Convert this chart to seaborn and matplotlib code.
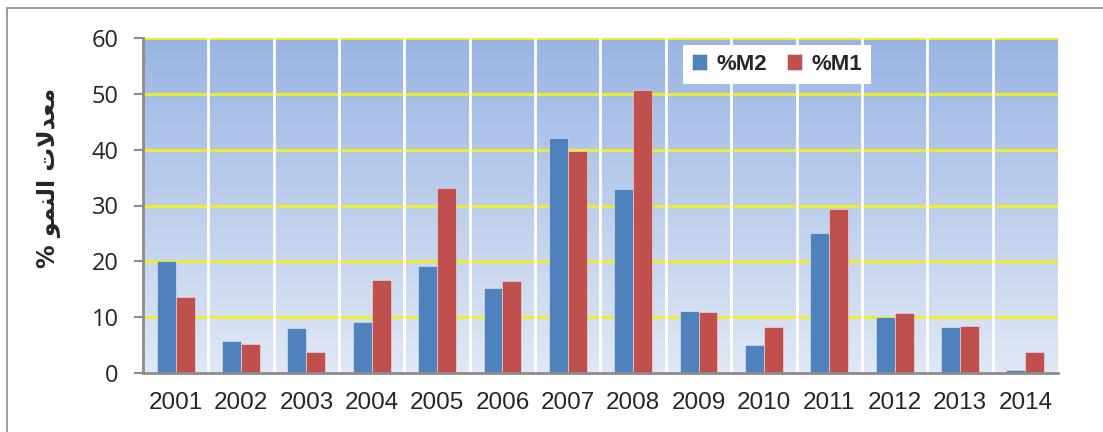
import numpy as np
import pandas as pd
import matplotlib
matplotlib.use("Agg")
import matplotlib.pyplot as plt
import seaborn as sns
from matplotlib.patches import Rectangle

years = ["2001", "2002", "2003", "2004", "2005", "2006", "2007",
         "2008", "2009", "2010", "2011", "2012", "2013", "2014"]
m2 = [20.1, 5.8, 8.0, 9.2, 19.1, 15.2, 42.1, 32.9, 11.1, 5.0, 25.0, 10.0, 8.2, 0.5]
m1 = [13.6, 5.2, 3.7, 16.7, 33.1, 16.4, 39.7, 50.7, 10.9, 8.2, 29.3, 10.8, 8.5, 3.7]
series = ["%M2", "%M1"]
colors = ["#4F81BD", "#C0504D"]
yticks = [0, 10, 20, 30, 40, 50, 60]
# Arabic label "معدلات النمو %" in visual order with presentation forms
ylabel = "% \uFEEE\uFEE4\uFEE8\uFEDF\uFE8D \uFE95\uFEFB\uFEAA\uFECC\uFEE3"

df = pd.DataFrame({
    "year": years * 2,
    "series": [series[0]] * len(years) + [series[1]] * len(years),
    "value": m2 + m1,
})

sns.set_theme(style="white")
plt.rcParams["font.family"] = ["Liberation Sans", "DejaVu Sans"]

fig = plt.figure(figsize=(11.03, 4.32), dpi=100)
ax = fig.add_axes([143 / 1103, 1 - 373 / 432, 915 / 1103, 335 / 432])

# gradient background
top = np.array([0x9A, 0xB5, 0xE3]) / 255
bot = np.array([0xE0, 0xE8, 0xF5]) / 255
t = np.linspace(0, 1, 256)[:, None]
grad = (top * (1 - t) + bot * t)[:, None, :]
grad = np.repeat(grad, 2, axis=1)

sns.barplot(data=df, x="year", y="value", hue="series", hue_order=series,
            palette=colors, width=0.58, gap=0, ax=ax, zorder=3,
            edgecolor="#FFFFFF80", linewidth=0.6, saturation=1)
ax.imshow(grad, extent=[-0.5, len(years) - 0.5, 0, 60], aspect="auto",
          zorder=0, interpolation="bilinear")
ax.set_xlim(-0.5, len(years) - 0.5)
ax.set_ylim(0, 60)

# grid lines
for y in yticks[1:]:
    ax.axhline(y, color="#F0F020", lw=2, zorder=1)
for k in range(1, len(years)):
    ax.axvline(k - 0.5, color="white", lw=2, zorder=1)

ax.set_yticks(yticks)
ax.set_yticklabels([str(v) for v in yticks], fontsize=17, family=["Open Sans"])
ax.set_xticks(range(len(years)))
ax.set_xticklabels(years, fontsize=17.5)
ax.set_xticks(np.arange(-0.5, len(years), 1), minor=True)
ax.tick_params(axis="x", which="major", length=0, pad=14)
ax.tick_params(axis="x", which="minor", length=6.5, width=1.5, color="#8C8C8C")
ax.tick_params(axis="y", length=6.5, width=1.5, color="#8C8C8C", pad=11, left=True)
ax.set_xlabel("")
ax.set_ylabel("")
for s in ["top", "right"]:
    ax.spines[s].set_visible(False)
for s in ["left", "bottom"]:
    ax.spines[s].set_color("#8C8C8C")
    ax.spines[s].set_linewidth(2)
    ax.spines[s].set_zorder(5)

leg = ax.legend(loc="upper left", bbox_to_anchor=(0.590, 0.979), ncol=2,
                frameon=True, fancybox=False, framealpha=1, edgecolor="white",
                prop={"size": 16, "weight": "bold", "family": "Liberation Sans"},
                handlelength=0.7, handleheight=0.7, handletextpad=0.4,
                columnspacing=0.9, borderpad=0.4, borderaxespad=0)
leg.get_frame().set_linewidth(0)

fig.text(48 / 1103, 1 - 178 / 432, ylabel, rotation=90, ha="center", va="center",
         fontsize=17, fontweight="bold", family=["DejaVu Sans"])

# outer chart border
fig.patches.append(Rectangle((7 / 1103, -0.1), 1.2, (432 - 8) / 432 + 0.1,
                             transform=fig.transFigure, fill=False,
                             edgecolor="#8C8C8C", lw=1.2, zorder=0))

fig.savefig("out.png", dpi=100)
